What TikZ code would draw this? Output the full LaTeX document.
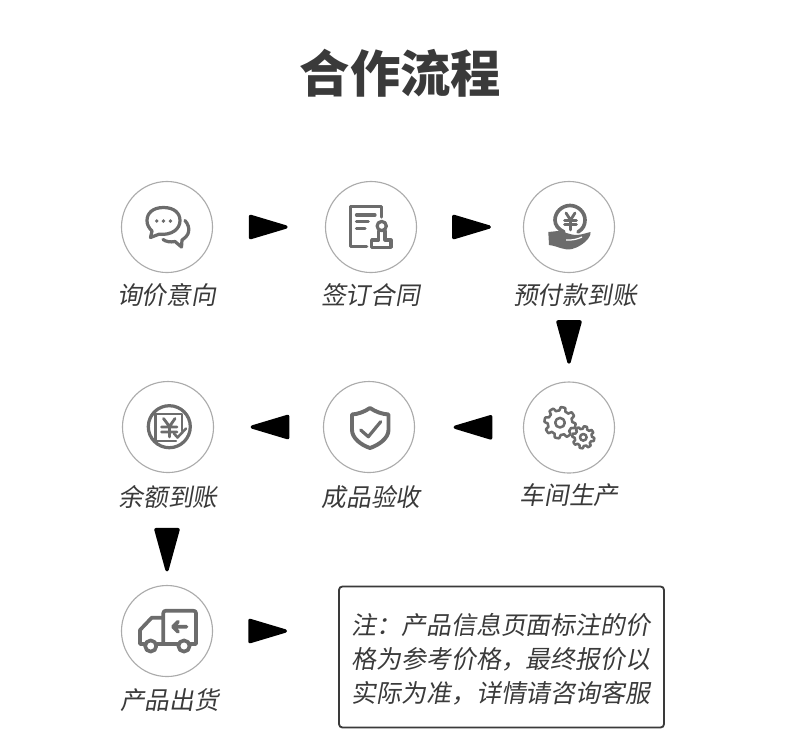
\documentclass[tikz,border=0pt]{standalone}
\usepackage{fontspec}
\newfontfamily\cjkfont{Noto Sans CJK SC}
\newfontfamily\cjkslant[FakeSlant=0.18]{Noto Sans CJK SC}
\usetikzlibrary{arrows.meta, positioning}
\definecolor{inkgray}{HTML}{3A3A3A}
\definecolor{icongray}{HTML}{6C6C6C}
\definecolor{ringgray}{HTML}{ABABAB}
\tikzset{
  stepring/.style={circle, draw=ringgray, line width=0.8pt, minimum size=2.275cm, inner sep=0pt},
  steplabel/.style={text=inkgray, font=\cjkslant\fontsize{17.6}{20}\selectfont},
  iconline/.style={draw=icongray, line width=2.3pt, line join=round, line cap=round},
  flowh/.style={line width=0.1pt, -{Triangle[round, length=1.08cm, width=0.62cm, line width=2.4pt]}},
  flowv/.style={line width=0.1pt, -{Triangle[round, length=1.21cm, width=0.64cm, line width=2.4pt]}},
  gaps/.style 2 args={shorten <=#1*0.025cm, shorten >=#2*0.025cm}
}
\newcommand{\gearicon}[5]{
  \draw[iconline, line width=1.8pt, fill=white] plot[domain=0:360, samples=181, variable=\t]
    ({#1+((#3+#4)/2+(#3-#4)/2*max(-1,min(1,2.5*sin(#5*\t))))*cos(\t)},
     {#2+((#3+#4)/2+(#3-#4)/2*max(-1,min(1,2.5*sin(#5*\t))))*sin(\t)}) -- cycle;
}
\begin{document}
\begin{tikzpicture}[x=0.025cm, y=-0.025cm]
  \useasboundingbox (0,0) rectangle (800,752);
  \node[text=inkgray, font=\cjkfont\bfseries\fontsize{35.8}{40}\selectfont] (title) at (400.5,73) {合作流程};

  \node[stepring] (inquiry) at (167,227) {};
  \node[stepring] (contract) at (371,227) {};
  \node[stepring] (deposit) at (569,227) {};
  \node[stepring] (workshop) at (569,427.5) {};
  \node[stepring] (accept) at (369,427) {};
  \node[stepring] (balance) at (168,427) {};
  \node[stepring] (ship) at (167,631) {};

  \node[steplabel] (inquirytext) at (166.5,295) {询价意向};
  \node[steplabel] (contracttext) at (370.5,295) {签订合同};
  \node[steplabel] (deposittext) at (575,295) {预付款到账};
  \node[steplabel] (workshoptext) at (569,495) {车间生产};
  \node[steplabel] (accepttext) at (371,497) {成品验收};
  \node[steplabel] (balancetext) at (168,497) {余额到账};
  \node[steplabel] (shiptext) at (169.5,700) {产品出货};

  \node[draw=inkgray, line width=1.3pt, rounded corners=2.5pt, minimum width=8.125cm, minimum height=3.525cm,
    inner sep=0pt] (note) at (501.5,657) {};
  \node[align=center, text=inkgray, font=\cjkslant\fontsize{17.7}{24.1}\selectfont] (notetext) at (501,659)
    {注：产品信息页面标注的价\\格为参考价格，最终报价以\\实际为准，详情请咨询客服};

  \draw[flowh, gaps={41}{37.3}] (inquiry) -- (contract);
  \draw[flowh, gaps={44}{32}] (contract) -- (deposit);
  \draw[flowv, gaps={52}{17.7}] (deposit) -- (workshop);
  \draw[flowh, gaps={36.5}{38.5}] (workshop) -- (accept);
  \draw[flowh, gaps={39.3}{36.5}] (accept) -- (balance);
  \draw[flowv, gaps={59.5}{13.5}] (balance.south -| ship) -- (ship);
  \coordinate (notedoor) at (note.west |- ship);
  \draw[flowh, gaps={41}{51}] (ship) -- (notedoor);

  % chat
  \draw[iconline] (163.5,207.5) .. controls (153,207.5) and (147,213) .. (147,220.5)
    .. controls (147,225) and (149,228) .. (152,231) -- (150.5,237.5) -- (159,234.2)
    .. controls (172,235.5) and (180,229) .. (180,220.5) .. controls (180,213) and (174,207.5) .. (163.5,207.5) -- cycle;
  \fill[icongray] (156.7,221) circle[radius=1.9] (163.4,221) circle[radius=1.9] (170.4,221) circle[radius=1.9];
  \draw[iconline] (185,220.5) .. controls (188,224) and (189.5,228) .. (188.5,232)
    .. controls (188,235) and (185.5,237.5) .. (182,240) -- (181.5,247) -- (175,241.5)
    .. controls (170,242.5) and (166,241.5) .. (163,239.5);

  % contract
  \draw[iconline] (381.7,217) -- (381.7,206.7) -- (350.7,206.7) -- (350.7,246.7) -- (366.7,246.7);
  \draw[iconline] (356.5,215) -- (375,215) (356.5,221.7) -- (368.3,221.7) (356.5,228.3) -- (365,228.3);
  \draw[iconline] (381.7,226) circle[radius=4.6];
  \draw[iconline] (378.6,231) -- (378.6,240) -- (371.7,240) -- (371.7,247.3) -- (391,247.3) -- (391,240) -- (385,240) -- (385,231);

  % coin in hand
  \draw[iconline, line width=2.6pt] (564,232) .. controls (558,229) and (555,225) .. (555,220) .. controls (555,212) and (562,205.5) .. (570,205.5)
    .. controls (578,205.5) and (585,212) .. (585,220) .. controls (585,225) and (583,229) .. (578,232);
  \draw[iconline, line width=2pt] (566,213) -- (570.5,220) -- (575,213) (564.5,220.5) -- (576.5,220.5) (564.5,224.5) -- (576.5,224.5) (570.5,220) -- (570.5,230);
  \fill[icongray] (548.3,232) -- (558,231) .. controls (563,231) and (568,234.5) .. (576,235)
    .. controls (581,235) and (586,233) .. (590.5,232) .. controls (591.5,237) and (583,246) .. (572,249)
    .. controls (564,251) and (558,246) .. (549,245) -- cycle;
  \draw[white, line width=0.9pt] (566,240) .. controls (572,240.5) and (578,239) .. (582,237);

  % gears
  \gearicon{560}{422.7}{15.6}{12.2}{8}
  \draw[iconline, line width=1.8pt] (560,422.7) circle[radius=4.8];
  \gearicon{583.3}{437.3}{11}{8.6}{8}
  \draw[iconline, line width=1.8pt] (583.3,437.3) circle[radius=3.3];

  % shield
  \draw[iconline, line width=2.8pt] (370,408) .. controls (364,412) and (358,414) .. (352,414.5) -- (352,430)
    .. controls (352,438) and (361,445) .. (370,448) .. controls (379,445) and (388.5,438) .. (388.5,430) -- (388.5,414.5)
    .. controls (382,414) and (376,412) .. (370,408) -- cycle;
  \draw[iconline] (360.7,430) -- (368.3,436.7) -- (380.7,421.7);

  % receipt
  \draw[iconline] (169.3,426.7) circle[radius=21];
  \draw[iconline, line width=1.7pt] (181.7,431) -- (181.7,414) -- (155.5,414) -- (155.5,441) -- (176,441);
  \draw[iconline, line width=2pt] (163.5,418.5) -- (169.5,426.5) -- (175,418.5) (161.5,427) -- (177,427) (161.5,432) -- (177,432) (169.5,426.5) -- (169.5,437);
  \draw[iconline, line width=1.8pt] (174,433.5) -- (177.5,437.5) -- (186,428.5);

  % truck
  \draw[iconline, line width=2.6pt] (144.5,644) -- (140,644) -- (140,630) -- (151.7,617.7) -- (163.3,617.7) (163.3,644) -- (163.3,613)
    .. controls (163.3,611.5) and (164.5,610.7) .. (166,610.7) -- (193,610.7) .. controls (195,610.7) and (196,611.5) .. (196,613)
    -- (196,644) -- (190,644) (178,644) -- (157,644);
  \draw[iconline, line width=2.6pt] (150.7,646) circle[radius=5.6] (184,646) circle[radius=5.6];
  \draw[iconline, line width=2.6pt] (186.5,626.7) -- (173.5,626.7) (178,621.7) -- (173,626.7) -- (178,631.7);
\end{tikzpicture}
\end{document}
